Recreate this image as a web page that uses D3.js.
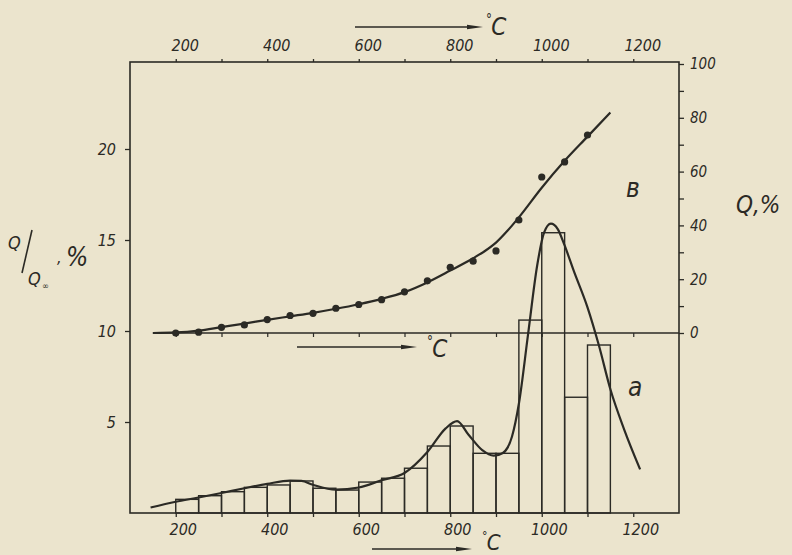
<!DOCTYPE html>
<html><head><meta charset="utf-8">
<script src="https://cdn.jsdelivr.net/npm/d3@7"></script>
<style>
html,body{margin:0;padding:0;background:#ebe4cd;}
svg{display:block;}
text{font-family:'Liberation Sans Narrow','DejaVu Sans Condensed','DejaVu Sans',sans-serif;font-style:italic;fill:#2b2a25;}
</style></head>
<body>
<svg id="c" width="792" height="555"></svg>
<script>
// ---- data ----
const tempTicks = [200,300,400,500,600,700,800,900,1000,1100,1200];
const tempLabels = [200,400,600,800,1000,1200];
const leftTicks = [5,10,15,20];
const rightTicks = [0,10,20,30,40,50,60,70,80,90,100];
const rightLabels = [0,20,40,60,80,100];
// histogram a: bins of 50 °C (start temperatures) and Q/Q∞, %
const binStart = [200,250,300,350,400,450,500,550,600,650,700,750,800,850,900,950,1000,1050,1100];
const binValue = [0.75,0.95,1.17,1.41,1.54,1.76,1.36,1.26,1.70,1.91,2.46,3.68,4.78,3.28,3.28,10.6,15.4,6.36,9.23];
// smooth curve a (Q/Q∞, %)
const curveAT = [145,200,250,300,350,400,450,475,500,550,600,650,700,750,790,815,840,870,895,915,935,950,970,990,1005,1020,1035,1050,1070,1100,1125,1150,1180,1215];
const curveAV = [0.3,0.62,0.85,1.1,1.36,1.6,1.78,1.76,1.55,1.28,1.4,1.8,2.2,3.35,4.65,5.05,4.3,3.45,3.15,3.3,4.2,6.0,9.8,13.6,15.4,15.9,15.6,14.7,13.3,11.3,9.2,6.8,4.6,2.4];
// curve b (Q, %) measured points
const dotsBT = [200,250,300,350,400,450,500,550,600,650,700,750,800,850,900,950,1000,1050,1100];
const dotsBV = [0,0.3,2.1,3.0,5.0,6.5,7.3,9.2,10.6,12.4,15.3,19.4,24.4,26.7,30.5,42.0,58.0,63.6,73.6];
// smoothed line b
const lineBT = [150,200,250,300,350,400,450,500,550,600,650,700,750,800,850,875,900,925,950,1000,1050,1100,1150];
const lineBV = [0,0.2,0.9,2.2,3.5,4.9,6.2,7.5,9.0,10.7,12.7,15.2,18.8,23.2,27.8,30.4,33.6,38,43,54,64,73,82];

// ---- layout ----
const svg = d3.select("#c");
const ink = "#2b2a25";
const L=130, R=679, T=62, B=513;
const x = d3.scaleLinear().domain([100,1300]).range([L,R]);
const yL = d3.scaleLinear().domain([0,20]).range([B,149]);
const yR = d3.scaleLinear().domain([0,100]).range([333,64]);

// frame
svg.append("rect").attr("x",L).attr("y",T).attr("width",R-L).attr("height",B-T)
  .attr("fill","none").attr("stroke",ink).attr("stroke-width",1.6);

function styleAxis(g){
  g.select(".domain").remove();
  g.selectAll(".tick line").attr("stroke",ink).attr("stroke-width",1.3);
  g.selectAll("text").attr("fill",ink).style("font-size","16px").style("font-family",null);
}
// top axis
const gTop = svg.append("g").attr("transform",`translate(0,${T})`)
  .call(d3.axisTop(x).tickValues(tempTicks).tickSize(3).tickPadding(8)
  .tickFormat(d=>tempLabels.includes(d)?d:""));
styleAxis(gTop); gTop.selectAll("text").attr("dx",9);
// bottom axis
const gBot = svg.append("g").attr("transform",`translate(0,${B})`)
  .call(d3.axisBottom(x).tickValues(tempTicks).tickSize(4).tickPadding(7)
  .tickFormat(d=>tempLabels.includes(d)?d:""));
styleAxis(gBot); gBot.selectAll("text").attr("dx",7);
// left axis
const gLeft = svg.append("g").attr("transform",`translate(${L},0)`)
  .call(d3.axisLeft(yL).tickValues(leftTicks).tickSize(5).tickPadding(9));
styleAxis(gLeft);
// right axis
const gRight = svg.append("g").attr("transform",`translate(${R},0)`)
  .call(d3.axisRight(yR).tickValues(rightTicks).tickSize(5).tickPadding(6)
  .tickFormat(d=>rightLabels.includes(d)?d:""));
styleAxis(gRight); gRight.selectAll("text").style("font-size","15px");

// inner temperature axis for curve b (Q = 0)
const gMid = svg.append("g").attr("transform",`translate(0,${yR(0)})`)
  .call(d3.axisBottom(x).tickValues(tempTicks).tickSize(4).tickFormat(""));
gMid.select(".domain").remove();
gMid.selectAll(".tick line").attr("stroke",ink).attr("stroke-width",1.2);
svg.append("line").attr("x1",x(150)).attr("x2",R).attr("y1",yR(0)).attr("y2",yR(0))
  .attr("stroke",ink).attr("stroke-width",1.3);

// histogram
svg.append("g").selectAll("rect").data(binStart).join("rect")
  .attr("x",d=>x(d)).attr("width",d=>x(d+50)-x(d))
  .attr("y",(d,i)=>yL(binValue[i])).attr("height",(d,i)=>yL(0)-yL(binValue[i]))
  .attr("fill","none").attr("stroke",ink).attr("stroke-width",1.4);

// curve a
const lineGen = d3.line().curve(d3.curveMonotoneX);
svg.append("path").attr("d",lineGen(curveAT.map((t,i)=>[x(t),yL(curveAV[i])])))
  .attr("fill","none").attr("stroke",ink).attr("stroke-width",2.2);

// curve b
svg.append("path").attr("d",lineGen(lineBT.map((t,i)=>[x(t),yR(lineBV[i])])))
  .attr("fill","none").attr("stroke",ink).attr("stroke-width",2.2);
svg.append("g").selectAll("circle").data(dotsBT).join("circle")
  .attr("cx",d=>x(d)).attr("cy",(d,i)=>yR(dotsBV[i])).attr("r",3.6).attr("fill",ink);

// arrows with °C
function arrow(x1,x2,y){
  svg.append("line").attr("x1",x1).attr("x2",x2-8).attr("y1",y).attr("y2",y)
    .attr("stroke",ink).attr("stroke-width",1.4);
  svg.append("path").attr("d",`M${x2},${y} L${x2-16},${y-2.2} L${x2-16},${y+2.2} Z`).attr("fill",ink);
}
function degC(xp,yp,size){
  svg.append("text").attr("x",xp).attr("y",yp-size*0.45).style("font-size",(size*0.55)+"px").text("°");
  svg.append("text").attr("x",xp+size*0.22).attr("y",yp).style("font-size",size+"px").text("C");
}
arrow(355,483,27); degC(486,35,24);
arrow(297,417,347); degC(427,357,24);
arrow(372,472,549); degC(482,550,22);

// curve letters
svg.append("text").attr("x",626).attr("y",197).style("font-size","26px").text("в");
svg.append("text").attr("x",628).attr("y",396).style("font-size","26px").text("а");

// left axis title Q/Q∞, %
svg.append("text").attr("x",8).attr("y",249).style("font-size","18px").text("Q");
svg.append("line").attr("x1",32).attr("y1",230).attr("x2",22).attr("y2",273).attr("stroke",ink).attr("stroke-width",1.6);
svg.append("text").attr("x",28).attr("y",285).style("font-size","18px").text("Q");
svg.append("text").attr("x",42).attr("y",289).style("font-size","9px").text("∞");
svg.append("text").attr("x",57).attr("y",263).style("font-size","16px").text(",");
svg.append("text").attr("x",66).attr("y",266).style("font-size","26px").text("%");

// right axis title Q, %
svg.append("text").attr("x",736).attr("y",213).style("font-size","24px").text("Q,%");
</script>
</body></html>
